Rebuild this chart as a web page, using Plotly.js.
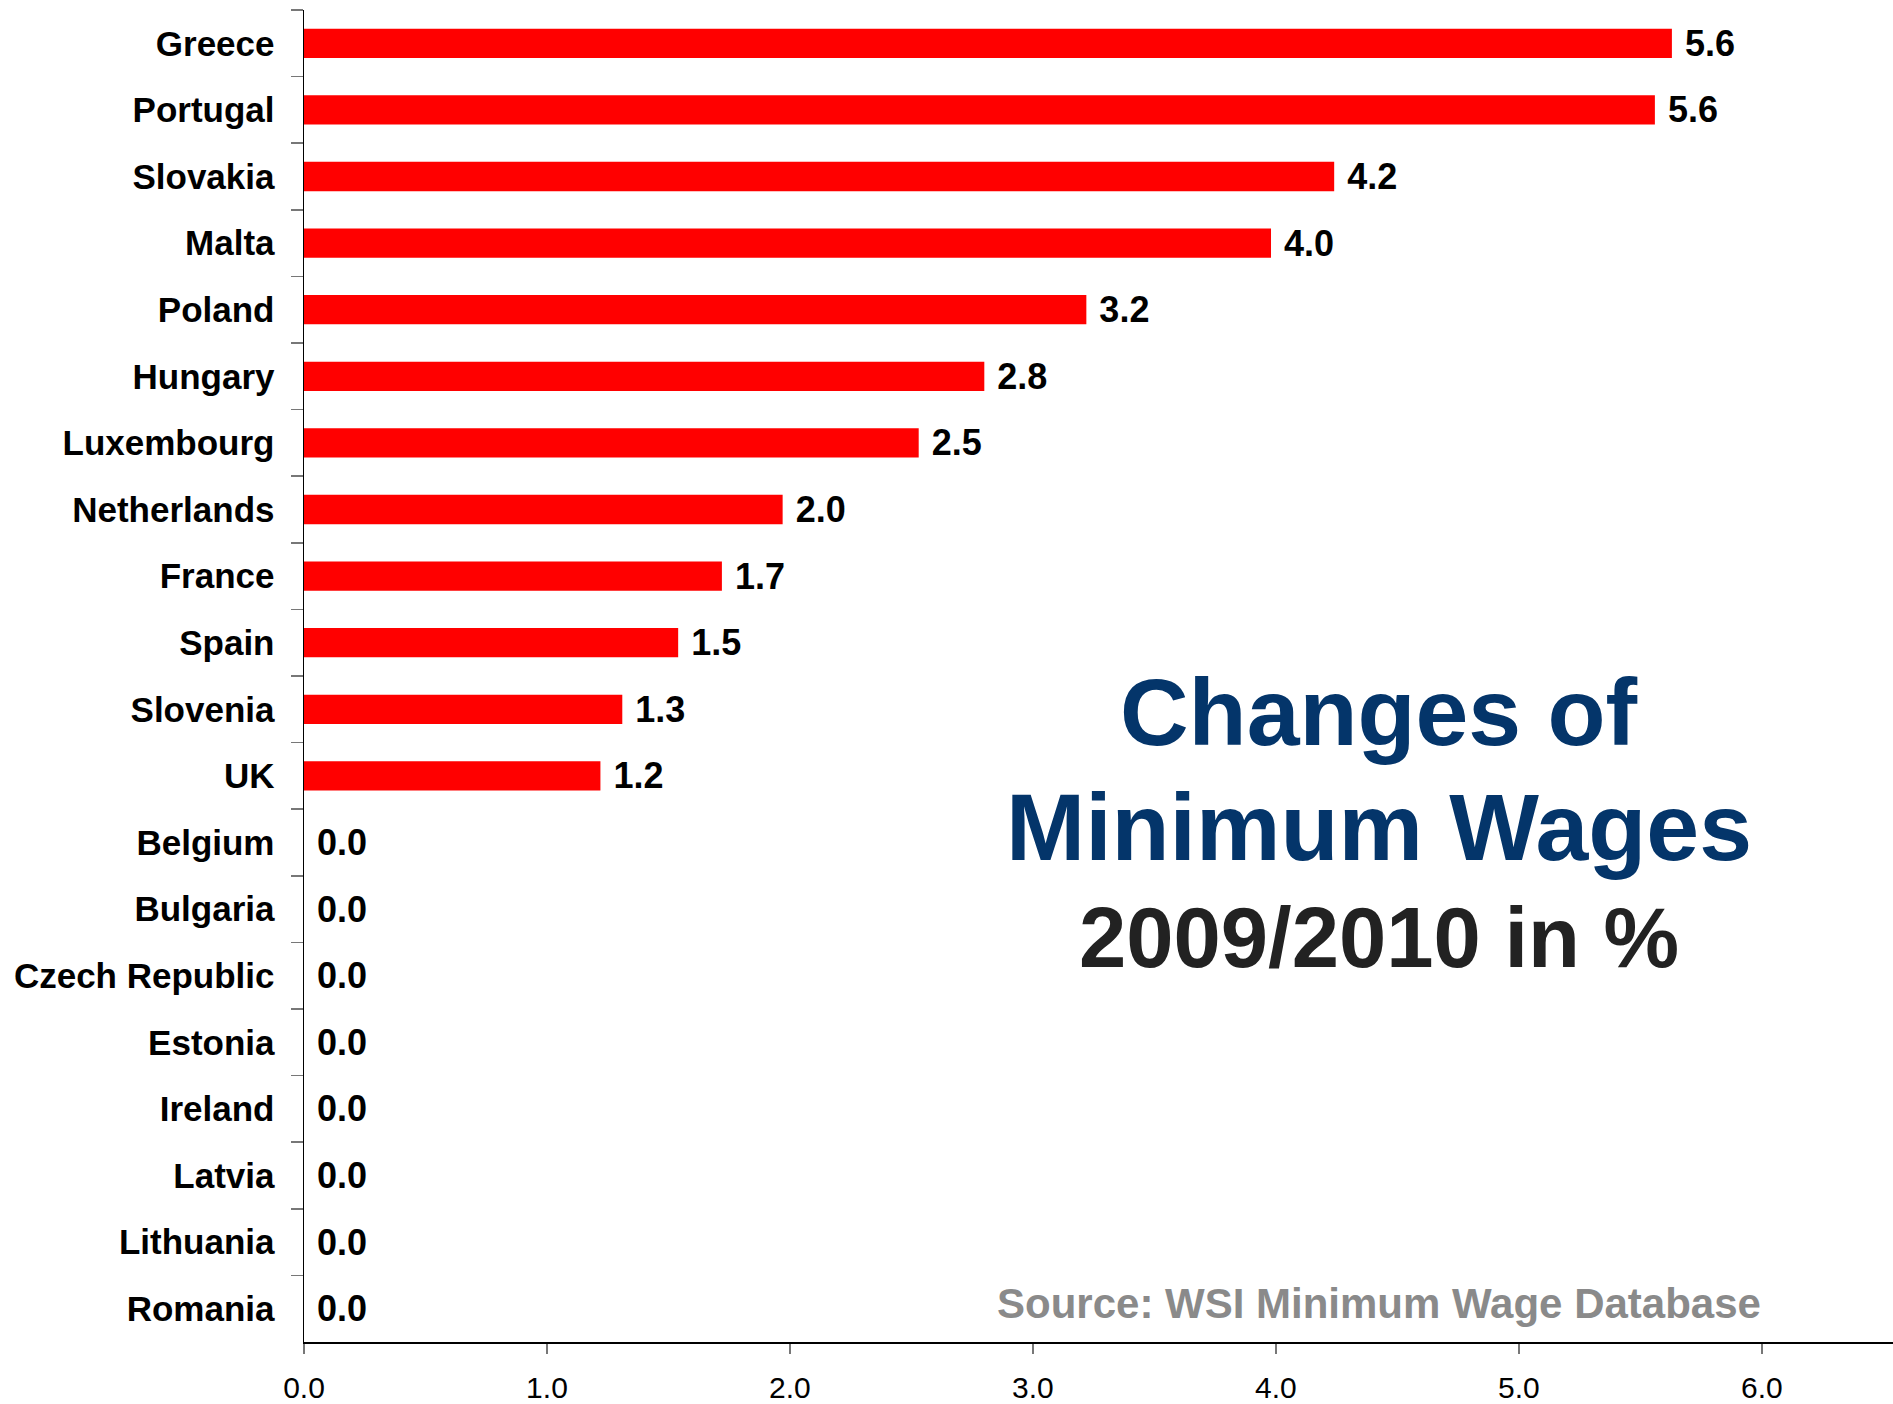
<!DOCTYPE html>
<html>
<head>
<meta charset="utf-8">
<script src="https://cdn.plot.ly/plotly-3.0.1.min.js"></script>
<style>html,body{margin:0;padding:0;background:#fff;}#chart{width:1893px;height:1404px;}</style>
</head>
<body>
<div id="chart"></div>
<script>
const countries = ["Greece","Portugal","Slovakia","Malta","Poland","Hungary","Luxembourg","Netherlands","France","Spain","Slovenia","UK","Belgium","Bulgaria","Czech Republic","Estonia","Ireland","Latvia","Lithuania","Romania"];
const changes = [5.63,5.56,4.24,3.98,3.22,2.80,2.53,1.97,1.72,1.54,1.31,1.22,0,0,0,0,0,0,0,0];
const xTicks = [0,1,2,3,4,5,6];
const titleLines = ["Changes of","Minimum Wages","2009/2010 in %"];
const sourceText = "Source: WSI Minimum Wage Database";

const font = "Liberation Sans, Arial, Helvetica, sans-serif";

const trace = {
  type: "bar",
  orientation: "h",
  y: countries,
  x: changes,
  marker: {color: "#ff0000", line: {width: 0}},
  texttemplate: "\u00a0%{x:.1f}",
  textposition: "outside",
  constraintext: "none",
  cliponaxis: false,
  textfont: {family: font, size: 36, color: "#000", weight: "bold"},
  hoverinfo: "skip"
};

const layout = {
  width: 1893, height: 1404,
  margin: {l: 304, r: 0, t: 10, b: 62},
  paper_bgcolor: "#fff", plot_bgcolor: "#fff",
  showlegend: false,
  bargap: 0.56,
  font: {family: font},
  xaxis: {
    range: [0, 6.54],
    tickvals: xTicks,
    tickformat: ".1f",
    showgrid: false, zeroline: false,
    showline: true, linecolor: "#000", linewidth: 1.5,
    ticks: "outside", ticklen: 10, tickcolor: "#777", tickwidth: 1.5,
    tickfont: {family: font, size: 30, color: "#000"},
    ticklabelstandoff: 8,
    fixedrange: true
  },
  yaxis: {
    type: "category",
    categoryorder: "array", categoryarray: countries,
    autorange: "reversed",
    showgrid: false, zeroline: false,
    showline: true, linecolor: "#000", linewidth: 1.5,
    ticks: "outside", ticklen: 12, tickcolor: "#777", tickwidth: 1.5,
    tickson: "boundaries",
    tickfont: {family: font, size: 35, color: "#000", weight: "bold"},
    ticklabelstandoff: 21,
    fixedrange: true
  },
  annotations: [
    {text: titleLines[0], xref: "paper", yref: "paper", x: 0.6765, y: 0.473, xanchor: "center", yanchor: "middle", showarrow: false,
     font: {family: font, size: 95, color: "#04356a", weight: "bold"}},
    {text: titleLines[1], xref: "paper", yref: "paper", x: 0.6765, y: 0.387, xanchor: "center", yanchor: "middle", showarrow: false,
     font: {family: font, size: 95, color: "#04356a", weight: "bold"}},
    {text: titleLines[2], xref: "paper", yref: "paper", x: 0.6765, y: 0.304, xanchor: "center", yanchor: "middle", showarrow: false,
     font: {family: font, size: 85, color: "#222222", weight: "bold"}},
    {text: sourceText, xref: "paper", yref: "paper", x: 0.6765, y: 0.029, xanchor: "center", yanchor: "middle", showarrow: false,
     font: {family: font, size: 42, color: "#8a8a8a", weight: "bold"}}
  ]
};

Plotly.newPlot("chart", [trace], layout, {displayModeBar: false, staticPlot: true});
</script>
</body>
</html>
